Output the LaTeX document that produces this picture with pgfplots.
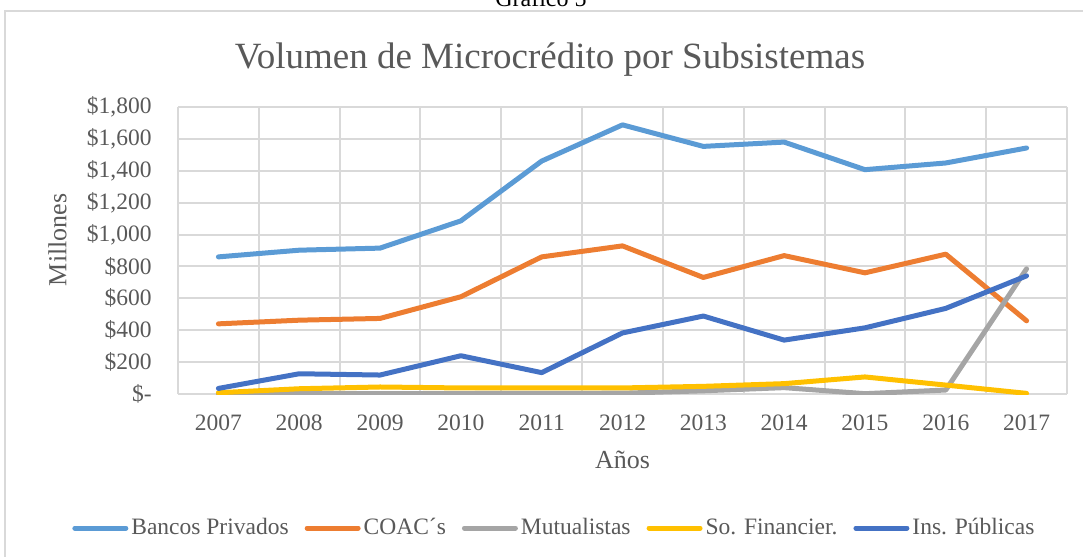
\documentclass[border=0pt]{standalone}
\usepackage{pgfplots}
\pgfplotsset{compat=1.18}
\usepackage{fontspec}
\setmainfont{Liberation Serif}
\definecolor{txt}{HTML}{595959}
\definecolor{gridc}{HTML}{D9D9D9}
\definecolor{cBanc}{HTML}{5B9BD5}
\definecolor{cCoac}{HTML}{ED7D31}
\definecolor{cMut}{HTML}{A5A5A5}
\definecolor{cSof}{HTML}{FFC000}
\definecolor{cIns}{HTML}{4472C4}
\begin{document}
\begin{tikzpicture}
\useasboundingbox (0pt,0pt) rectangle (541.5pt,-278.5pt);
\draw[gridc, line width=1pt] (2.5pt,-5.5pt) rectangle (560pt,-300pt);
\node[anchor=base, font=\fontsize{12}{14}\selectfont, text=black] at (270.5pt,-3pt) {Gráfico 5};
\node[anchor=center, font=\fontsize{18.5}{22}\selectfont, text=txt] at (275pt,-30pt) {Volumen de Microcrédito por Subsistemas};
\begin{axis}[
  at={(89pt,-197pt)}, anchor=south west,
  scale only axis, width=444.5pt, height=143.5pt,
  xmin=-0.5, xmax=10.5, ymin=0, ymax=1800,
  xtick={0,...,10},
  xticklabels={2007,2008,2009,2010,2011,2012,2013,2014,2015,2016,2017},
  minor xtick={-0.5,0.5,...,10.5},
  ytick={0,200,...,1800},
  yticklabels={{\$-},{\$200},{\$400},{\$600},{\$800},{\$1,000},{\$1,200},{\$1,400},{\$1,600},{\$1,800}},
  ymajorgrids, xminorgrids,
  grid style={gridc, line width=1pt},
  minor grid style={gridc, line width=1pt},
  axis line style={draw=none},
  tick style={draw=none},
  every tick label/.append style={inner sep=0pt, font=\fontsize{11.75}{14}\selectfont, text=txt},
  yticklabel style={anchor=east, xshift=-13pt},
  xticklabel style={anchor=north, yshift=-10pt},
  xlabel={Años}, ylabel={Millones},
  label style={font=\fontsize{13}{15}\selectfont, text=txt},
  xlabel style={at={(axis description cs:0.5,-0.23)}, anchor=center},
  ylabel style={at={(axis description cs:-0.1355,0.537)}, anchor=center},
  legend style={draw=none, fill=none, at={(0.424,-0.467)}, anchor=center,
    legend columns=-1, font=\fontsize{11.75}{14}\selectfont, text=txt,
    nodes={inner sep=1.5pt},
    /tikz/every even column/.append style={column sep=6.5pt}},
  legend image code/.code={\draw[#1, line width=2.5pt, line cap=round] (0pt,0pt) -- (25.5pt,0pt);},
  every axis plot/.append style={line width=2.5pt, line cap=round, line join=round, mark=none},
]
\addplot[cBanc] coordinates {(0,860)(1,902)(2,915)(3,1086)(4,1461)(5,1688)(6,1553)(7,1580)(8,1407)(9,1449)(10,1543)};
\addplot[cCoac] coordinates {(0,440)(1,463)(2,474)(3,610)(4,860)(5,929)(6,731)(7,868)(8,760)(9,877)(10,459)};
\addplot[cMut] coordinates {(0,0)(1,2)(2,3)(3,3)(4,4)(5,5)(6,20)(7,40)(8,2)(9,25)(10,785)};
\addplot[cSof] coordinates {(0,8)(1,33)(2,44)(3,38)(4,38)(5,38)(6,48)(7,65)(8,107)(9,56)(10,4)};
\addplot[cIns] coordinates {(0,35)(1,127)(2,119)(3,240)(4,134)(5,383)(6,489)(7,338)(8,415)(9,537)(10,741)};
\legend{Bancos Privados,COAC´s,Mutualistas,So. Financier.,Ins. Públicas}
\end{axis}
\end{tikzpicture}
\end{document}
